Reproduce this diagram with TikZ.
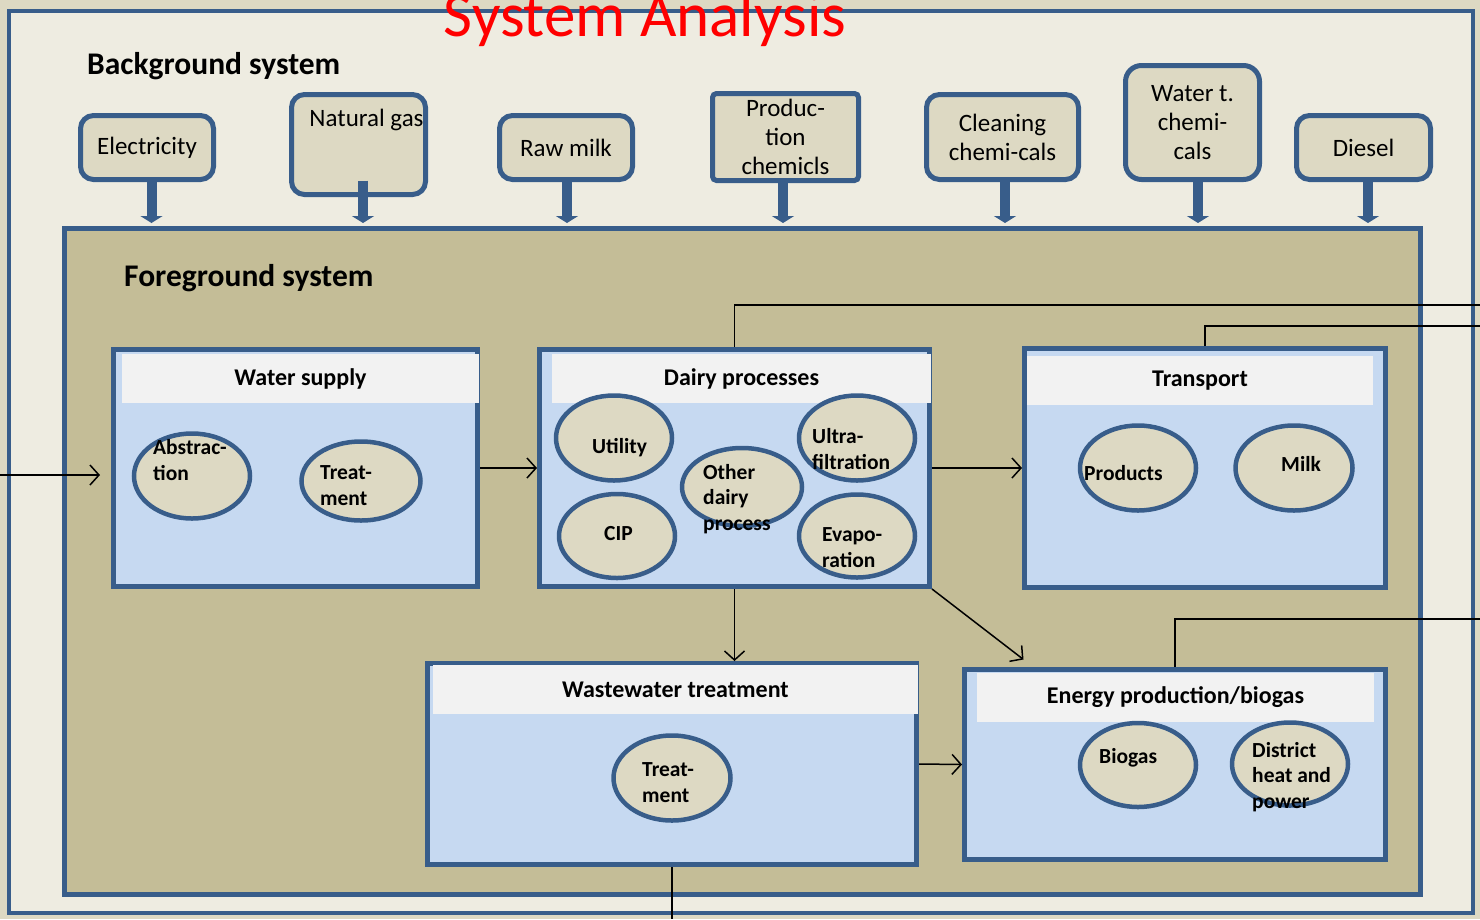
\documentclass[tikz,border=0pt]{standalone}
\usepackage{fontspec}
\setmainfont{Carlito}
\usepackage{tikz}
\usetikzlibrary{arrows.meta,shapes.geometric}
\definecolor{frameblue}{HTML}{385D8A}
\definecolor{paper}{HTML}{EEECE1}
\definecolor{sand}{HTML}{DDD9C3}
\definecolor{fgsand}{HTML}{C4BD97}
\definecolor{paleblue}{HTML}{C6D9F1}
\definecolor{headgrey}{HTML}{F2F2F2}

\begin{document}
\begin{tikzpicture}[x=1pt, y=-1pt,
  inbox/.style={draw=frameblue, line width=5pt, fill=sand, rounded corners=13pt, align=center, inner sep=0pt, font=\fontsize{25}{29}\selectfont},
  unit/.style={draw=frameblue, line width=5pt, fill=paleblue, inner sep=0pt},
  head/.style={fill=headgrey, inner sep=0pt, font=\fontsize{24}{28}\selectfont\bfseries},
  proc/.style={ellipse, draw=frameblue, line width=4.5pt, fill=sand, inner sep=0pt},
  ptext/.style={font=\fontsize{21.5}{25.5}\selectfont\bfseries, align=left, anchor=base west, inner sep=0pt},
  feed/.style={frameblue, line width=10pt, -{Triangle[width=22pt,length=7pt]}},
  link/.style={line width=1.5pt},
  flow/.style={link, -{Straight Barb[length=9pt,width=20pt]}}]
\fill[sand] (0,0) rectangle (1480,919);
\useasboundingbox (0,0) rectangle (1480,919);
\node[draw=frameblue, line width=4pt, fill=paper, minimum width=1464pt, minimum height=902pt, inner sep=0pt] (bg) at (741,462) {};
\node[text=red, font=\fontsize{63}{70}\selectfont, anchor=base, inner sep=0pt] (title) at (645,36) {System Analysis};
\node[font=\fontsize{31.5}{36}\selectfont\bfseries, anchor=base west, inner sep=0pt] (bgname) at (87,74) {Background system};

\node[inbox, minimum width=133pt, minimum height=64pt] (elec) at (147,147.5) {Electricity};
\node[inbox, minimum width=134pt, minimum height=100pt] (gas) at (358.5,144.5) {};
\node[font=\fontsize{25}{29}\selectfont, anchor=base, inner sep=0pt] (gasname) at (366.5,126) {Natural gas};
\node[inbox, minimum width=133pt, minimum height=64pt] (rawmilk) at (566,147.5) {Raw milk};
\node[inbox, rounded corners=4pt, minimum width=146pt, minimum height=87pt] (prodchem) at (785.5,137) {Produc-\\tion\\chemicls};
\node[inbox, minimum width=152pt, minimum height=85pt] (cleanchem) at (1002.5,137) {Cleaning\\chemi-cals};
\node[inbox, rounded corners=16pt, minimum width=134pt, minimum height=114pt] (watchem) at (1192.5,122.5) {Water t.\\chemi-\\cals};
\node[inbox, minimum width=134pt, minimum height=64pt] (diesel) at (1363.5,147.5) {Diesel};

\node[draw=frameblue, line width=5pt, fill=fgsand, minimum width=1356pt, minimum height=666pt, inner sep=0pt] (fg) at (742.5,561.5) {};
\node[font=\fontsize{31.5}{36}\selectfont\bfseries, anchor=base west, inner sep=0pt] (fgname) at (124,286) {Foreground system};

\draw[feed] ([xshift=4.5pt]elec.south) -- ([xshift=4.5pt, yshift=3pt]elec.south |- fg.north);
\draw[feed] ([xshift=4.5pt, yshift=16.5pt]gas.south) -- ([xshift=4.5pt, yshift=3pt]gas.south |- fg.north);
\draw[feed] ([xshift=1pt]rawmilk.south) -- ([xshift=1pt, yshift=3pt]rawmilk.south |- fg.north);
\draw[feed] ([xshift=-2.5pt]prodchem.south) -- ([xshift=-2.5pt, yshift=3pt]prodchem.south |- fg.north);
\draw[feed] ([xshift=2.5pt]cleanchem.south) -- ([xshift=2.5pt, yshift=3pt]cleanchem.south |- fg.north);
\draw[feed] ([xshift=5.5pt]watchem.south) -- ([xshift=5.5pt, yshift=3pt]watchem.south |- fg.north);
\draw[feed] ([xshift=4.5pt]diesel.south) -- ([xshift=4.5pt, yshift=3pt]diesel.south |- fg.north);

\node[unit, minimum width=364pt, minimum height=237pt] (water) at (295.5,468) {};
\node[head, minimum width=357pt, minimum height=49pt] (waterhead) at (300.5,378.5) {Water supply};
\node[unit, minimum width=390pt, minimum height=237pt] (dairy) at (734.5,468) {};
\node[head, minimum width=379pt, minimum height=49pt] (dairyhead) at (741.5,378.5) {Dairy processes};
\node[unit, minimum width=361pt, minimum height=239pt] (transport) at (1205,468) {};
\node[head, minimum width=346pt, minimum height=49pt] (transporthead) at (1200,380.5) {Transport};
\node[unit, minimum width=489pt, minimum height=201pt] (waste) at (672,764) {};
\node[head, minimum width=485pt, minimum height=49pt] (wastehead) at (675.5,689.5) {Wastewater treatment};
\node[unit, minimum width=421pt, minimum height=190pt] (energy) at (1175,764.5) {};
\node[head, minimum width=397pt, minimum height=49pt] (energyhead) at (1175.5,697.5) {Energy production/biogas};

\node[proc, minimum width=116pt, minimum height=85pt] (abstr) at (192,476) {};
\node[proc, minimum width=119pt, minimum height=79pt] (treat) at (361,481) {};
\node[proc, minimum width=116pt, minimum height=85pt] (utility) at (614,438) {};
\node[proc, minimum width=116pt, minimum height=84pt] (cip) at (617,536) {};
\node[proc, minimum width=120pt, minimum height=78pt] (other) at (742,487) {};
\node[proc, minimum width=116pt, minimum height=85pt] (ultra) at (857,438) {};
\node[proc, minimum width=116pt, minimum height=83pt] (evap) at (857,536) {};
\node[proc, minimum width=116pt, minimum height=85pt] (products) at (1138,468) {};
\node[proc, minimum width=117pt, minimum height=85pt] (milk) at (1294,468) {};
\node[proc, minimum width=117pt, minimum height=85pt] (wwtreat) at (672,778) {};
\node[proc, minimum width=116pt, minimum height=84pt] (biogas) at (1138,765) {};
\node[proc, minimum width=116pt, minimum height=83pt] (dhp) at (1290,764) {};

\node[ptext] (abstrtext) at (153,480) {Abstrac-\\tion};
\node[ptext] (treattext) at (320,505) {Treat-\\ment};
\node[ptext] (utilitytext) at (592,453) {Utility};
\node[ptext] (ciptext) at (604,540) {CIP};
\node[ptext] (othertext) at (703,530) {Other\\dairy\\process};
\node[ptext] (ultratext) at (812,469) {Ultra-\\filtration};
\node[ptext] (evaptext) at (822,567) {Evapo-\\ration};
\node[ptext] (productstext) at (1084,480) {Products};
\node[ptext] (milktext) at (1281,471) {Milk};
\node[ptext] (wwtreattext) at (642,802) {Treat-\\ment};
\node[ptext] (biogastext) at (1099,763) {Biogas};
\node[ptext] (dhptext) at (1252,808) {District\\heat and\\power};

\coordinate (src) at (0,475);
\coordinate (sink) at (672,919);
\coordinate (exit1) at (1480,305);
\coordinate (exit2) at (1480,326);
\coordinate (exit3) at (1480,619);
\draw[flow] (src) -- ([xshift=-11pt]water.west |- src);
\draw[flow] (water.east) -- (dairy.west);
\draw[flow] (dairy.east) -- (transport.west);
\draw[flow] (dairy.south) -- (dairy.south |- waste.north);
\draw[flow] (dairy.south east) -- ([xshift=61.5pt, yshift=7.5pt]energy.north west);
\draw[flow] (waste.east) -- (energy.west);
\draw[link] (waste.south) -- (sink);
\draw[link] (dairy.north) |- (exit1);
\draw[link] (transport.north) |- (exit2);
\draw[link] (energy.north) |- (exit3);
\end{tikzpicture}
\end{document}
